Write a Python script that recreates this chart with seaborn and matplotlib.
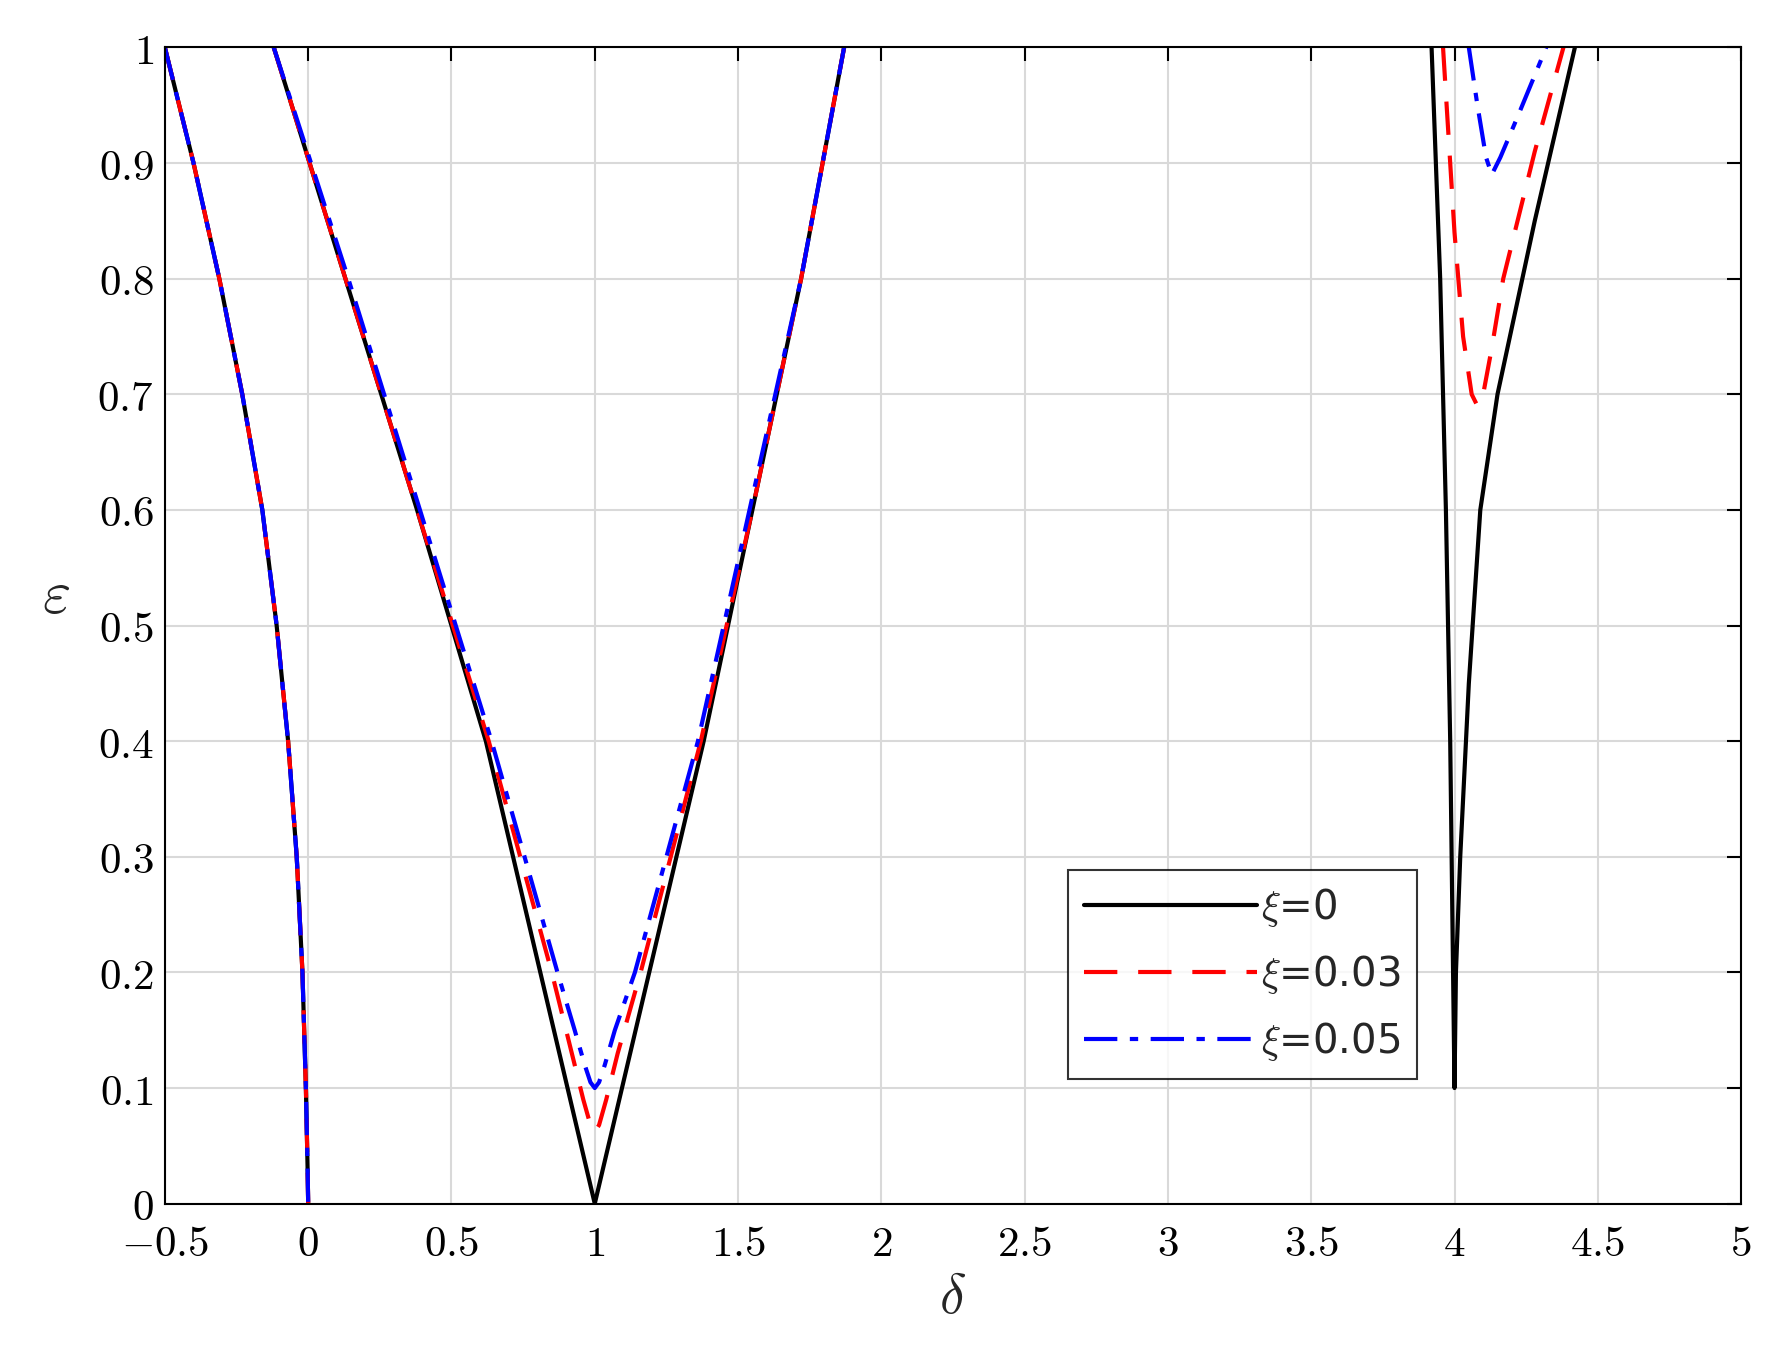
import matplotlib
matplotlib.use("Agg")
import matplotlib.pyplot as plt
import seaborn as sns
import pandas as pd

sns.set_theme(style="whitegrid")
plt.rcParams['mathtext.fontset'] = 'cm'
plt.rcParams['font.family'] = ['DejaVu Sans']

# left boundary (all xi coincide)
eA = [1, 0.9, 0.8, 0.7, 0.6, 0.5, 0.4, 0.3, 0.2, 0.1, 0.03, 0]
dA = [-0.5, -0.40, -0.31, -0.23, -0.16, -0.11, -0.07, -0.04, -0.02, -0.008, -0.002, 0]

# tongue at delta=1
d1_x0 = [-0.12, 0.13, 0.38, 0.62, 0.81, 1.0, 1.19, 1.38, 1.55, 1.72, 1.87]
e1_x0 = [1, 0.8, 0.6, 0.4, 0.2, 0.0, 0.2, 0.4, 0.6, 0.8, 1]
d1_x3 = [-0.12, 0.13, 0.38, 0.63, 0.85, 0.92, 0.96, 0.985, 1.0, 1.015, 1.04, 1.08, 1.16, 1.37, 1.55, 1.72, 1.87]
e1_x3 = [1, 0.8, 0.6, 0.4, 0.2, 0.13, 0.09, 0.068, 0.062, 0.068, 0.09, 0.13, 0.2, 0.4, 0.6, 0.8, 1]
d1_x5 = [-0.12, 0.14, 0.39, 0.64, 0.87, 0.93, 0.965, 0.985, 1.0, 1.015, 1.035, 1.07, 1.14, 1.36, 1.54, 1.72, 1.87]
e1_x5 = [1, 0.8, 0.6, 0.4, 0.2, 0.15, 0.12, 0.105, 0.1, 0.105, 0.12, 0.15, 0.2, 0.4, 0.6, 0.8, 1]

# tongue at delta=4
d4_x0 = [3.92, 3.95, 3.97, 3.985, 3.995, 4.0, 4.0, 4.005, 4.02, 4.05, 4.09, 4.15, 4.28, 4.42]
e4_x0 = [1, 0.8, 0.6, 0.4, 0.2, 0.1, 0.1, 0.2, 0.3, 0.45, 0.6, 0.7, 0.85, 1]
d4_x3 = [3.96, 3.98, 4.0, 4.03, 4.06, 4.08, 4.10, 4.13, 4.17, 4.28, 4.38]
e4_x3 = [1, 0.92, 0.84, 0.75, 0.70, 0.69, 0.70, 0.74, 0.8, 0.91, 1]
d4_x5 = [4.05, 4.08, 4.11, 4.13, 4.16, 4.22, 4.32]
e4_x5 = [1, 0.95, 0.905, 0.89, 0.905, 0.94, 1]

fig, ax = plt.subplots(figsize=(17.73, 13.57), dpi=100)
fig.subplots_adjust(left=0.093, right=0.982, top=0.965, bottom=0.113)
ax.set_facecolor('white')

styles = {'0': dict(color='black', ls='-', lw=3),
          '0.03': dict(color='red', ls=(0, (8, 5)), lw=3),
          '0.05': dict(color='blue', ls=(0, (8, 3, 2, 3)), lw=3)}

def draw(d, e, key, label=None):
    df = pd.DataFrame({'d': d, 'e': e})
    sns.lineplot(data=df, x='d', y='e', sort=False, estimator=None, ax=ax,
                 label=label, **styles[key])

draw(d1_x0, e1_x0, '0', r'$\xi$=0')
draw(d1_x3, e1_x3, '0.03', r'$\xi$=0.03')
draw(d1_x5, e1_x5, '0.05', r'$\xi$=0.05')
draw(dA, eA, '0'); draw(dA, eA, '0.03'); draw(dA, eA, '0.05')
draw(d4_x0, e4_x0, '0'); draw(d4_x3, e4_x3, '0.03'); draw(d4_x5, e4_x5, '0.05')

ax.set_xlim(-0.5, 5); ax.set_ylim(0, 1)
xt = [-0.5, 0, 0.5, 1, 1.5, 2, 2.5, 3, 3.5, 4, 4.5, 5]
yt = [0, 0.1, 0.2, 0.3, 0.4, 0.5, 0.6, 0.7, 0.8, 0.9, 1]
ax.set_xticks(xt)
ax.set_xticklabels([('$-0.5$' if v == -0.5 else f'${v:g}$') for v in xt], fontsize=31)
ax.set_yticks(yt)
ax.set_yticklabels([f'${v:g}$' for v in yt], fontsize=31)
ax.tick_params(direction='in', length=10, width=1.5, top=True, right=True, colors='black')
ax.tick_params(axis='x', pad=14)
ax.tick_params(axis='y', pad=8)
ax.grid(True, color='#d9d9d9', lw=1.5)
for s in ax.spines.values():
    s.set_color('black'); s.set_linewidth(1.5)
ax.set_xlabel(r'$\delta$', fontsize=40)
ax.set_ylabel(r'$\varepsilon$', fontsize=44, rotation=0, labelpad=30)
leg = ax.legend(loc='lower left', bbox_to_anchor=(0.56, 0.09), fontsize=29,
                frameon=True, fancybox=False, edgecolor='black', handlelength=4.3,
                handletextpad=0.1, labelspacing=0.6)
leg.get_frame().set_linewidth(1.5)
fig.savefig('out.png', dpi=100)
